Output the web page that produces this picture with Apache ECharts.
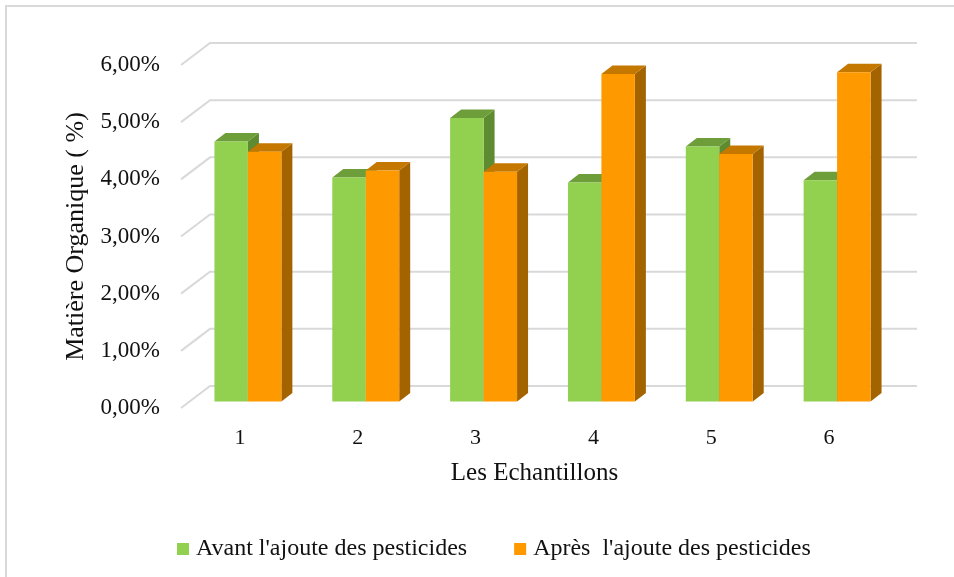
<!DOCTYPE html>
<html>
<head>
<meta charset="utf-8">
<script src="https://cdn.jsdelivr.net/npm/echarts@6/dist/echarts.min.js"></script>
<style>
  html, body { margin: 0; padding: 0; background: #fff; }
  #chart { width: 954px; height: 577px; }
</style>
</head>
<body>
<div id="chart"></div>
<script>
// Organic matter content per sample, before and after pesticide addition
const categories = ['1', '2', '3', '4', '5', '6'];
const avantValues = [0.0455, 0.0392, 0.0496, 0.0383, 0.0446, 0.0387];
const apresValues = [0.0437, 0.0404, 0.0402, 0.0573, 0.0433, 0.0576];
const yTicks = [0, 0.01, 0.02, 0.03, 0.04, 0.05, 0.06];
const seriesNames = ["Avant l'ajoute des pesticides", "Après  l'ajoute des pesticides"];

// 3D look: back wall offset, bar front-plane offset, bar depth
const WALL_DX = 29, WALL_DY = 22;
const BAR_DX = 8, BAR_DY = 6.5;
const DEPTH_X = 11, DEPTH_Y = 8.5;
const BAR_FRAC = 0.284;

const palettes = [
  { front: '#92d050', top: '#6e9e3a', side: '#5e8a30' },
  { front: '#ff9900', top: '#c47800', side: '#a36400' }
];

const FONT = '"Liberation Serif", "Times New Roman", serif';
const TEXT = '#111111';

function wallItem(params, api) {
  const cs = params.coordSys;
  const p = api.coord([0, api.value(1)]);
  const y = p[1];
  return {
    type: 'polyline',
    shape: { points: [[cs.x, y], [cs.x + WALL_DX, y - WALL_DY], [cs.x + cs.width + WALL_DX, y - WALL_DY]] },
    style: { stroke: '#d9d9d9', lineWidth: 2, fill: null },
    silent: true
  };
}

function makeBarRenderer(slot, pal) {
  return function (params, api) {
    const idx = api.value(0);
    const base = api.coord([idx, 0]);
    const top = api.coord([idx, api.value(1)]);
    const cw = api.size([1, 0])[0];
    const bw = cw * BAR_FRAC;
    const x0 = base[0] + BAR_DX + (slot === 0 ? -bw : 0);
    const x1 = x0 + bw;
    const yb = base[1] - BAR_DY;
    const yt = top[1] - BAR_DY;
    return {
      type: 'group',
      children: [
        { type: 'polygon', shape: { points: [[x1, yt], [x1 + DEPTH_X, yt - DEPTH_Y], [x1 + DEPTH_X, yb - DEPTH_Y], [x1, yb]] },
          style: { fill: pal.side } },
        { type: 'polygon', shape: { points: [[x0, yt], [x1, yt], [x1 + DEPTH_X, yt - DEPTH_Y], [x0 + DEPTH_X, yt - DEPTH_Y]] },
          style: { fill: pal.top } },
        { type: 'rect', shape: { x: x0, y: yt, width: bw, height: yb - yt },
          style: { fill: pal.front } }
      ]
    };
  };
}

const chart = echarts.init(document.getElementById('chart'), null, { renderer: 'canvas' });

chart.setOption({
  backgroundColor: '#ffffff',
  animation: false,
  graphic: [{
    type: 'rect',
    shape: { x: 6, y: 6, width: 1000, height: 1000 },
    style: { fill: null, stroke: '#d9d9d9', lineWidth: 2 },
    silent: true, z: -10
  }],
  grid: { left: 181, right: 66, top: 65, bottom: 169, containLabel: false },
  legend: {
    top: 532,
    left: 172,
    icon: 'rect',
    itemWidth: 12,
    itemHeight: 12,
    itemGap: 47,
    textStyle: { fontFamily: FONT, fontSize: 24, color: TEXT, padding: [0, 0, 0, 2] },
    data: seriesNames
  },
  xAxis: {
    type: 'category',
    data: categories,
    axisLine: { show: false },
    axisTick: { show: false },
    axisLabel: { fontFamily: FONT, fontSize: 22, color: TEXT, margin: 19 },
    name: 'Les Echantillons',
    nameLocation: 'middle',
    nameGap: 53,
    nameTextStyle: { fontFamily: FONT, fontSize: 25, color: TEXT }
  },
  yAxis: {
    type: 'value',
    min: 0,
    max: 0.06,
    interval: 0.01,
    splitLine: { show: false },
    axisLine: { show: false },
    axisTick: { show: false },
    axisLabel: {
      fontFamily: FONT, fontSize: 23, color: TEXT, margin: 21,
      formatter: v => (v * 100).toFixed(2).replace('.', ',') + '%'
    },
    name: 'Matière Organique ( %)',
    nameLocation: 'middle',
    nameGap: 92,
    nameRotate: 90,
    nameTextStyle: { fontFamily: FONT, fontSize: 26, color: TEXT }
  },
  series: [
    {
      type: 'custom',
      name: 'wall',
      renderItem: wallItem,
      data: yTicks.map(v => [0, v]),
      silent: true,
      z: 1
    },
    {
      type: 'custom',
      name: seriesNames[0],
      renderItem: makeBarRenderer(0, palettes[0]),
      itemStyle: { color: palettes[0].front },
      data: avantValues.map((v, i) => [i, v]),
      z: 2
    },
    {
      type: 'custom',
      name: seriesNames[1],
      renderItem: makeBarRenderer(1, palettes[1]),
      itemStyle: { color: palettes[1].front },
      data: apresValues.map((v, i) => [i, v]),
      z: 3
    }
  ]
});
</script>
</body>
</html>
